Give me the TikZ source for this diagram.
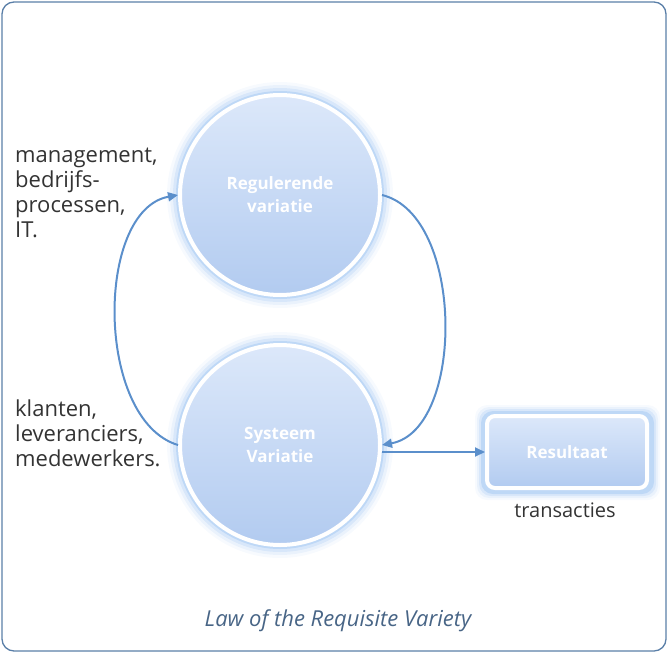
\documentclass[tikz,border=0pt]{standalone}
\usepackage{fontspec}
\setmainfont{Open Sans}
\usetikzlibrary{arrows.meta,shadings}
\definecolor{frame}{HTML}{5A7FA8}
\definecolor{arr}{HTML}{5B8FCB}
\definecolor{glow}{HTML}{8FBBF0}
\definecolor{fillA}{HTML}{DCE8FA}
\definecolor{fillB}{HTML}{B2CBF0}
\definecolor{txt}{HTML}{333333}
\tikzset{
 glowc/.style={circle,minimum size=200pt,draw=white,line width=4pt,
   top color=fillA,bottom color=fillB,text=white,font=\bfseries\fontsize{17}{23}\selectfont,align=center},
 lab/.style={anchor=north west,align=left,text=txt,font=\fontsize{22}{25}\selectfont,inner sep=0pt},
 conn/.style={draw=arr,line width=2pt,-{Triangle[length=10pt,width=9pt]}}
}
\begin{document}
\begin{tikzpicture}[x=1pt,y=-1pt]
\useasboundingbox (0,0) rectangle (668,653);
\draw[frame,line width=1.3pt,rounded corners=12pt] (2,2) rectangle (666,651);
\foreach \r/\o in {113/0.07,110/0.12,107/0.2,104/0.35}{
 \fill[glow,opacity=\o] (280,195) circle (\r);
 \fill[glow,opacity=\o] (280,445) circle (\r);
}
\foreach \d/\o in {10/0.07,8/0.12,6/0.2,4/0.35}{
 \fill[glow,opacity=\o,rounded corners=12pt] (485-\d,415-\d) rectangle (650+\d,490+\d);
}
\node[glowc] (reg) at (280,195) {Regulerende\\variatie};
\node[glowc] (sys) at (280,445) {Systeem\\Variatie};
\node[draw=white,line width=4pt,rounded corners=8pt,minimum width=160pt,minimum height=72pt,
  top color=fillA,bottom color=fillB,text=white,font=\bfseries\fontsize{17}{21}\selectfont] (res) at (567,452) {Resultaat};
\node[text=txt,font=\fontsize{20}{23}\selectfont] (tr) at (565,510) {transacties};
\node[lab] (l1) at (15,148) {management,\\bedrijfs-\\processen,\\IT.};
\node[lab] (l2) at (15,400) {klanten,\\leveranciers,\\medewerkers.};
\node[text=frame!80!black,font=\itshape\fontsize{22}{25}\selectfont] (cap) at (338,621) {Law of the Requisite Variety};
\draw[conn] (sys.west) .. controls (95,420) and (95,210) .. (reg.west);
\draw[conn] (reg.east) .. controls (465,215) and (465,430) .. (sys.east);
\draw[conn] ([yshift=-7pt]sys.east) -- (res.west);
\end{tikzpicture}
\end{document}
